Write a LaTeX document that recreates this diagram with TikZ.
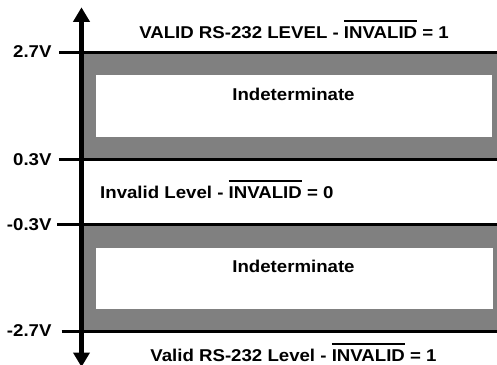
\documentclass[tikz,border=0pt]{standalone}
\usepackage{fontspec}
\setmainfont{Liberation Sans}[FakeStretch=1.09]
\usetikzlibrary{arrows.meta}
\definecolor{bandgray}{HTML}{808080}
\newsavebox\ovlbox
\newcommand\ovl[1]{\sbox\ovlbox{#1}\rlap{\raisebox{16.6bp}{\rule{\wd\ovlbox}{1.8bp}}}\usebox\ovlbox}
\begin{document}
\begin{tikzpicture}[x=1bp,y=-1bp,
  txt/.style={inner sep=0, font=\fontsize{17.1bp}{20bp}\selectfont\bfseries},
  level/.style={line width=3bp},
  band/.style={fill=bandgray},
  hole/.style={fill=white},
  axis/.style={line width=5bp}]
\clip (0,0) rectangle (497,364);
\fill[white] (0,0) rectangle (497,364);
% shaded bands and their white windows
\fill[band] (81.5,52) rectangle (497,159.3);
\fill[band] (81.5,224.3) rectangle (497,331);
\fill[hole] (96,75) rectangle (492,136.7);
\fill[hole] (96,248.3) rectangle (492.5,308.5);
% voltage labels
\node[txt, anchor=east] (l1) at (51.7,52) {2.7V};
\node[txt, anchor=east] (l2) at (51.7,159.3) {0.3V};
\node[txt, anchor=east] (l3) at (51.7,224.3) {-0.3V};
\node[txt, anchor=east] (l4) at (51.7,331) {-2.7V};
% level lines
\coordinate (s1) at (59.3,52);    \coordinate (r1) at (497,52);
\coordinate (s2) at (58.7,159.3); \coordinate (r2) at (497,159.3);
\coordinate (s3) at (57.3,224.3); \coordinate (r3) at (497,224.3);
\coordinate (s4) at (61.7,331);   \coordinate (r4) at (497,331);
\draw[level] (s1) -- (r1);
\draw[level] (s2) -- (r2);
\draw[level] (s3) -- (r3);
\draw[level] (s4) -- (r4);
% axis
\coordinate (atop) at (81.5,7.3);
\coordinate (abot) at (81.5,367);
\draw[axis, {Triangle[length=14.5bp,width=16bp]}-{Triangle[length=14.5bp,width=16bp]}] (abot) -- (atop);
% texts
\node[txt, anchor=base] (t1) at (294,38.8) {VALID RS-232 LEVEL - \ovl{INVALID} = 1};
\node[txt, anchor=base] (i1) at (293.5,100.6) {Indeterminate};
\node[txt, anchor=base west] (t2) at (100,198.3) {Invalid Level - \ovl{INVALID} = 0};
\node[txt, anchor=base] (i2) at (293.5,272.5) {Indeterminate};
\node[txt, anchor=base] (t3) at (293.5,361.7) {Valid RS-232 Level - \ovl{INVALID} = 1};
\end{tikzpicture}
\end{document}
